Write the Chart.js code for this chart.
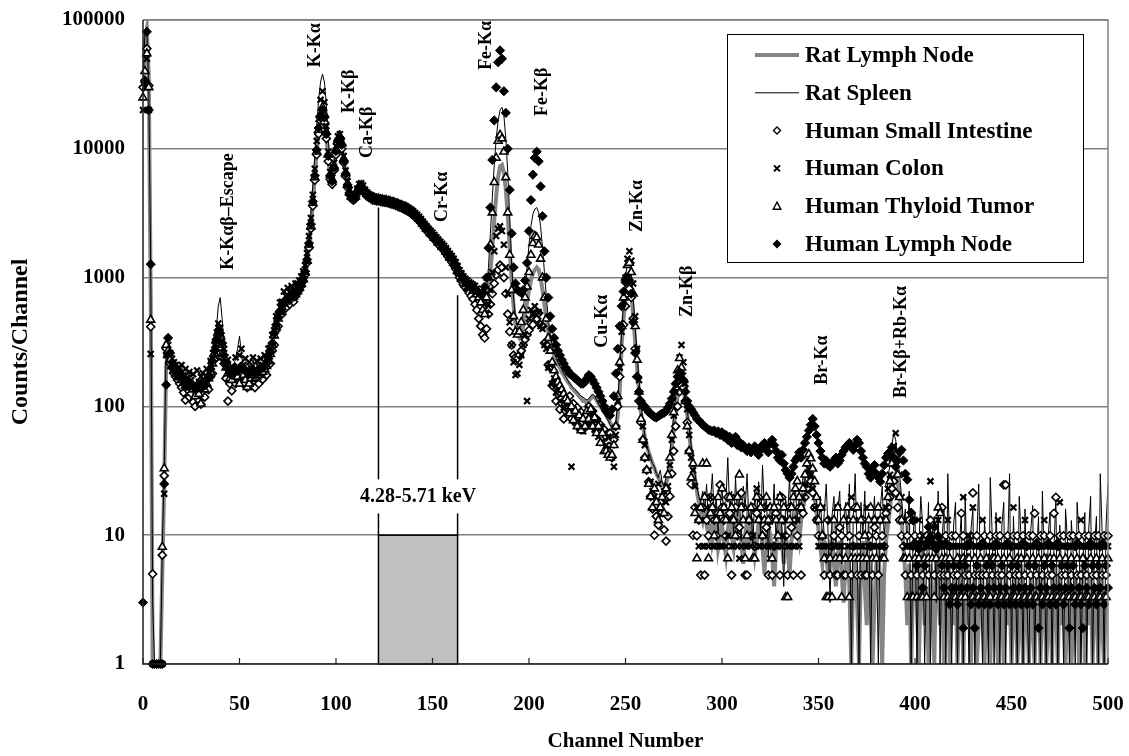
<!DOCTYPE html>
<html>
<head>
<meta charset="utf-8">
<script src="https://cdn.jsdelivr.net/npm/chart.js@4/dist/chart.umd.min.js"></script>
<style>
  body { margin: 0; background: #fff; }
</style>
</head>
<body>
<canvas id="myChart" width="1129" height="756"></canvas>
<script>
// counts per channel, channel = array index (0..500)
const ratLymphNode = [
  28000, 70000, 85000, 35000, 700, 1, 1, 1, 1, 1, 5, 26, 210, 250, 230, 205, 195, 185, 172, 178,
  165, 158, 150, 152, 145, 148, 140, 135, 142, 138, 135, 146, 142, 155, 168, 188, 215, 255, 310, 345,
  335, 295, 248, 212, 190, 176, 170, 178, 188, 184, 194, 198, 190, 184, 180, 175, 180, 184, 176, 180,
  185, 190, 195, 200, 210, 230, 260, 300, 360, 420, 480, 540, 600, 640, 660, 680, 700, 700, 720, 750,
  790, 840, 900, 980, 1100, 1350, 1800, 2500, 3800, 6000, 9500, 14000, 17500, 19000, 17000, 12500, 8500, 6000, 5500, 7000,
  9500, 11500, 12000, 10500, 8000, 6300, 5200, 4500, 4200, 4100, 4200, 4600, 5000, 5100, 4900, 4600, 4400, 4300, 4200, 4100,
  4100, 4080, 4050, 4020, 4000, 3980, 3950, 3920, 3880, 3840, 3800, 3750, 3700, 3650, 3600, 3550, 3500, 3420, 3340, 3260,
  3180, 3080, 2980, 2880, 2760, 2640, 2520, 2420, 2320, 2230, 2150, 2060, 1980, 1900, 1830, 1760, 1700, 1620, 1540, 1460,
  1400, 1330, 1250, 1160, 1080, 1020, 960, 920, 890, 860, 840, 820, 800, 770, 720, 680, 640, 620, 680, 850,
  1100, 1700, 2800, 4300, 6000, 7300, 7500, 6500, 4800, 3000, 1700, 950, 600, 430, 360, 340, 360, 420, 520, 650,
  800, 950, 1080, 1150, 1200, 1150, 1000, 800, 620, 480, 380, 320, 280, 250, 230, 210, 200, 185, 175, 165,
  155, 150, 140, 135, 130, 125, 120, 115, 110, 110, 105, 110, 115, 120, 118, 112, 105, 100, 95, 90,
  85, 80, 75, 70, 66, 68, 85, 130, 300, 480, 700, 950, 1050, 800, 500, 320, 200, 130, 90, 70,
  58, 50, 44, 40, 36, 33, 30, 28, 26, 25, 24, 25, 28, 35, 48, 68, 95, 120, 140, 145,
  135, 110, 85, 62, 45, 35, 28, 22, 18, 15, 13, 16, 12, 10, 14, 9, 11, 15, 8, 10,
  12, 9, 7, 11, 14, 10, 8, 12, 15, 11, 9, 6, 10, 13, 8, 12, 10, 7, 9, 13,
  11, 8, 5, 9, 12, 10, 7, 4, 8, 11, 13, 9, 6, 10, 8, 5, 9, 12, 14, 11,
  9, 13, 16, 20, 24, 27, 28, 25, 20, 15, 11, 8, 6, 9, 7, 5, 8, 10, 6, 4,
  7, 9, 5, 3, 6, 8, 4, 1, 5, 7, 3, 1, 6, 9, 4, 2, 7, 5, 1, 3,
  6, 8, 4, 1, 5, 9, 12, 16, 22, 28, 30, 26, 20, 14, 8, 5, 2, 6, 1, 4,
  7, 3, 1, 5, 8, 2, 4, 1, 6, 3, 1, 7, 4, 2, 5, 1, 3, 6, 1, 4,
  2, 5, 1, 3, 7, 1, 4, 2, 6, 1, 3, 5, 1, 2, 6, 4, 1, 3, 5, 1,
  4, 7, 2, 1, 5, 3, 1, 6, 2, 4, 1, 3, 5, 1, 2, 6, 1, 4, 3, 1,
  5, 2, 1, 4, 6, 1, 3, 5, 1, 2, 4, 1, 6, 3, 1, 5, 2, 4, 1, 3,
  6, 1, 2, 5, 3, 1, 4, 6, 1, 3, 2, 5, 1, 4, 3, 1, 6, 2, 1, 4,
  3
];

const ratSpleen = [
  32000, 80000, 84000, 28000, 1200, 3, 1, 1, 1, 1, 8, 32, 330, 290, 240, 215, 200, 190, 182, 175,
  170, 165, 160, 158, 150, 155, 148, 142, 150, 145, 140, 155, 150, 165, 180, 200, 240, 300, 400, 600,
  700, 480, 300, 220, 195, 180, 175, 200, 240, 280, 350, 260, 200, 190, 185, 180, 200, 230, 195, 185,
  190, 200, 205, 215, 225, 245, 280, 330, 400, 470, 530, 590, 650, 690, 700, 720, 740, 750, 770, 800,
  840, 900, 960, 1050, 1200, 1500, 2100, 3200, 5200, 9000, 15000, 24000, 33000, 38000, 33000, 22000, 12000, 7500, 6200, 8000,
  11000, 13500, 14000, 12000, 9000, 6800, 5500, 4700, 4300, 4200, 4300, 4800, 5200, 5300, 5000, 4700, 4500, 4350, 4250, 4200,
  4150, 4120, 4090, 4060, 4040, 4010, 3980, 3950, 3910, 3870, 3830, 3780, 3730, 3680, 3630, 3580, 3530, 3450, 3370, 3290,
  3210, 3110, 3010, 2910, 2790, 2670, 2550, 2450, 2350, 2260, 2180, 2090, 2010, 1930, 1860, 1790, 1730, 1650, 1570, 1490,
  1430, 1360, 1280, 1190, 1110, 1050, 990, 950, 920, 890, 870, 850, 830, 800, 760, 720, 690, 700, 850, 1200,
  2200, 4200, 7500, 12000, 16500, 20000, 21000, 18000, 12000, 6500, 3000, 1300, 700, 480, 420, 400, 430, 550, 800, 1200,
  1800, 2500, 3100, 3400, 3500, 3200, 2500, 1700, 1100, 700, 480, 360, 300, 260, 240, 220, 205, 195, 180, 170,
  160, 150, 145, 140, 135, 130, 125, 120, 118, 115, 112, 115, 120, 125, 120, 112, 105, 98, 92, 88,
  82, 78, 72, 68, 66, 75, 110, 200, 380, 650, 1000, 1300, 1400, 1100, 700, 420, 250, 160, 105, 78,
  60, 50, 44, 40, 36, 34, 30, 28, 32, 26, 24, 28, 34, 45, 60, 85, 120, 160, 190, 200,
  175, 130, 95, 68, 50, 38, 30, 24, 20, 18, 22, 15, 25, 12, 18, 30, 14, 20, 10, 16,
  25, 12, 18, 40, 15, 22, 10, 28, 14, 20, 9, 24, 16, 30, 12, 18, 8, 22, 14, 26,
  10, 35, 15, 20, 7, 18, 12, 25, 9, 16, 22, 11, 4, 19, 14, 28, 10, 17, 24, 13,
  20, 15, 30, 25, 38, 42, 35, 30, 22, 18, 12, 20, 9, 15, 25, 10, 3, 14, 20, 8,
  16, 22, 6, 12, 18, 9, 25, 1, 14, 30, 8, 1, 18, 10, 22, 5, 15, 1, 12, 20,
  8, 1, 16, 24, 10, 14, 28, 35, 50, 62, 55, 40, 30, 20, 12, 16, 8, 22, 1, 10,
  15, 1, 8, 20, 12, 1, 6, 18, 1, 10, 14, 3, 22, 1, 9, 16, 1, 30, 7, 1,
  12, 18, 1, 8, 15, 1, 20, 5, 1, 11, 16, 1, 9, 25, 4, 1, 13, 7, 1, 28,
  10, 1, 15, 6, 1, 12, 18, 1, 8, 30, 1, 14, 5, 1, 20, 9, 1, 16, 3, 1,
  11, 17, 1, 7, 14, 1, 22, 6, 1, 10, 15, 1, 8, 19, 1, 12, 5, 1, 16, 9,
  1, 13, 7, 1, 18, 10, 1, 6, 15, 1, 11, 20, 1, 8, 14, 1, 30, 10, 1, 12,
  25
];

const humanSmallIntestine = [
  30000, 33000, 60000, 31000, 415, 5, null, null, null, null, 7, 29, 280, 250, 215, 200, 180, 170, 160, 150,
  140, 128, 112, 135, 118, 126, 108, 100, 125, 112, 104, 130, 118, 140, 135, 170, 180, 230, 260, 310,
  290, 240, 215, 165, 110, 150, 132, 160, 150, 168, 155, 180, 150, 165, 140, 158, 145, 170, 140, 162,
  150, 175, 162, 185, 175, 210, 215, 270, 300, 390, 420, 520, 520, 610, 580, 650, 620, 690, 650, 720,
  760, 800, 860, 940, 1050, 1300, 1700, 2400, 3600, 5700, 9000, 13000, 16500, 18000, 16000, 12000, 8000, 5800, 5300, 6800,
  9000, 11000, 11500, 10000, 7800, 6100, 5000, 4400, 4100, 4000, 4100, 4500, 4900, 5000, 4800, 4500, 4300, 4200, 4100, 4000,
  4000, 3950, 3950, 3900, 3880, 3850, 3830, 3800, 3760, 3720, 3680, 3630, 3580, 3530, 3480, 3420, 3360, 3290, 3220, 3140,
  3060, 2960, 2860, 2760, 2650, 2540, 2420, 2320, 2220, 2140, 2060, 1980, 1900, 1820, 1750, 1680, 1620, 1540, 1460, 1390,
  1320, 1250, 1170, 1080, 1000, 940, 880, 840, 800, 760, 720, 680, 620, 560, 480, 420, 360, 340, 400, 520,
  620, 750, 900, 1050, 1150, 1250, 1200, 1000, 750, 520, 380, 300, 250, 240, 235, 250, 270, 300, 330, 360,
  390, 440, 430, 520, 480, 530, 430, 420, 310, 300, 210, 200, 145, 150, 110, 125, 95, 105, 80, 92,
  95, 120, 80, 105, 75, 98, 70, 90, 66, 85, 75, 100, 80, 92, 68, 80, 62, 72, 58, 66,
  58, 45, 62, 40, 55, 70, 100, 170, 280, 430, 600, 750, 820, 700, 480, 280, 170, 110, 75, 55,
  40, 32, 26, 20, 16, 10, 14, 12, 18, 15, 11, 9, 14, 20, 30, 45, 70, 100, 130, 145,
  140, 110, 75, 45, 25, 10, 16.4, 9.9, 13.1, 4.9, 16.4, 4.9, 13.1, 9.9, 19.7, 16.4, 13.1, 9.9, 14.8, 24.6,
  16.4, 13.1, 9.9, 19.7, 14.8, 4.9, 13.1, 16.4, 9.9, 11.5, 21.3, 16.4, 4.9, 4.9, 13.1, 9.9, 16.4, 8.2, 14.8, 19.7,
  13.1, 9.9, 16.4, 11.5, 4.9, 13.1, 4.9, 8.2, 14.8, 16.4, 4.9, 19.7, 13.1, 9.9, 4.9, 16.4, 11.5, 4.9, 13.1, 9.9,
  16.4, 4.9, 14.8, 19.7, 23, 29.5, 26.2, 21.3, 16.4, 13.1, 9.9, 16.4, 9.9, 4.9, 6.6, 13.1, 4.9, 8.2, 9.9, 4.9,
  4.9, 11.5, 9.9, 4.9, 4.9, 13.1, 9.9, 4.9, 8.2, 16.4, 4.9, 9.9, 4.9, 13.1, 4.9, 4.9, 9.9, 8.2, 4.9, 11.5,
  9.9, 4.9, 13.1, 9.9, 8.2, 14.8, 16.4, 19.7, 23, 26.2, 21.3, 16.4, 13.1, 9.9, 8.2, 4.9, 9.9, 13.1, 4.9, 8.2,
  9.9, 4.9, 6.6, 9.9, 4.9, 8.2, 9.9, 4.9, 13.1, 9.9, 4.9, 8.2, 9.9, 4.9, 16.4, 4.9, 9.9, 4.9, 8.2, 9.9,
  4.9, 9.9, 4.9, 6.6, 14.8, 9.9, 4.9, 8.2, 4.9, 9.9, 21.3, 4.9, 9.9, 4.9, 8.2, 4.9, 9.9, 4.9, 6.6, 9.9,
  4.9, 8.2, 9.9, 4.9, 9.9, 4.9, 24.6, 24.6, 9.9, 4.9, 8.2, 9.9, 4.9, 9.9, 4.9, 6.6, 9.9, 4.9, 8.2, 9.9,
  4.9, 9.9, 14.8, 4.9, 8.2, 9.9, 4.9, 9.9, 6.6, 4.9, 9.9, 4.9, 14.8, 19.7, 8.2, 9.9, 4.9, 9.9, 4.9, 8.2,
  9.9, 4.9, 9.9, 8.2, 4.9, 9.9, 4.9, 6.6, 9.9, 4.9, 9.9, 8.2, 4.9, 9.9, 4.9, 9.9, 8.2, 4.9, 9.9, 4.9,
  9.9
];

const humanColon = [
  20000, 30000, 50000, 20000, 255, 1, 1, 1, 1, 1, 1, 21, 250, 300, 260, 235, 220, 210, 195, 200,
  210, 175, 195, 168, 185, 160, 178, 150, 190, 155, 170, 182, 160, 195, 185, 225, 235, 300, 340, 440,
  410, 320, 280, 220, 230, 190, 205, 195, 240, 205, 250, 280, 210, 235, 195, 220, 200, 240, 195, 225,
  205, 235, 210, 250, 235, 280, 285, 360, 390, 500, 520, 640, 650, 780, 720, 830, 770, 860, 800, 900,
  900, 950, 1020, 1120, 1250, 1550, 2100, 2900, 4400, 7000, 11500, 17000, 24000, 28000, 23000, 15000, 9500, 6600, 6000, 7800,
  10500, 12500, 13000, 11500, 8800, 6800, 5600, 4800, 4400, 4300, 4400, 4900, 5300, 5400, 5200, 4800, 4600, 4450, 4350, 4250,
  4250, 4200, 4180, 4150, 4120, 4100, 4060, 4030, 3990, 3950, 3900, 3860, 3800, 3750, 3700, 3650, 3600, 3520, 3440, 3360,
  3280, 3180, 3080, 2970, 2850, 2730, 2610, 2500, 2400, 2310, 2230, 2140, 2060, 1980, 1900, 1830, 1770, 1690, 1610, 1530,
  1470, 1400, 1320, 1230, 1140, 1080, 1020, 980, 950, 920, 900, 880, 860, 820, 770, 720, 650, 560, 520, 620,
  800, 1100, 1600, 2100, 2400, 2500, 2300, 1800, 1200, 750, 450, 300, 220, 175, 180, 210, 250, 300, 360, 110,
  480, 560, 520, 600, 510, 540, 420, 400, 300, 280, 200, 210, 150, 165, 128, 140, 110, 125, 98, 112,
  90, 100, 34, 95, 75, 88, 68, 82, 64, 80, 74, 95, 72, 88, 66, 78, 58, 70, 52, 62,
  50, 58, 42, 50, 34, 60, 110, 200, 380, 650, 1000, 1400, 1600, 1350, 900, 500, 280, 160, 100, 70,
  50, 40, 32, 26, 22, 20, 18, 25, 16, 20, 22, 18, 24, 35, 55, 85, 130, 180, 240, 300,
  220, 150, 95, 60, 40, 32, 24, 16.4, 8.2, 13.1, 8.2, 8.2, 16.4, 8.2, 19.7, 8.2, 8.2, 13.1, 8.2, 8.2,
  8.2, 16.4, 8.2, 9.9, 13.1, 8.2, 8.2, 19.7, 8.2, 6.6, 8.2, 16.4, 8.2, 8.2, 13.1, 8.2, 9.9, 8.2, 23, 8.2,
  8.2, 13.1, 8.2, 16.4, 8.2, 6.6, 8.2, 13.1, 8.2, 8.2, 19.7, 8.2, 9.9, 13.1, 8.2, 8.2, 16.4, 8.2, 8.2, 13.1,
  8.2, 16.4, 19.7, 24.6, 29.5, 32.8, 29.5, 23, 16.4, 13.1, 8.2, 8.2, 16.4, 8.2, 8.2, 8.2, 13.1, 8.2, 8.2, 8.2,
  16.4, 8.2, 8.2, 6.6, 13.1, 8.2, 8.2, 19.7, 8.2, 8.2, 8.2, 13.1, 8.2, 8.2, 9.9, 16.4, 8.2, 8.2, 8.2, 13.1,
  8.2, 8.2, 13.1, 8.2, 8.2, 16.4, 23, 29.5, 39.4, 49.2, 62, 44.3, 29.5, 19.7, 13.1, 8.2, 8.2, 8.2, 8.2, 8.2,
  8.2, 8.2, 13.1, 6.6, 9.9, 8.2, 8.2, 8.2, 26.2, 8.2, 8.2, 8.2, 13.1, 8.2, 8.2, 8.2, 8.2, 13.1, 8.2, 8.2,
  8.2, 8.2, 8.2, 8.2, 8.2, 19.7, 8.2, 8.2, 9.9, 8.2, 16.4, 8.2, 8.2, 8.2, 8.2, 13.1, 8.2, 8.2, 8.2, 8.2,
  8.2, 8.2, 8.2, 13.1, 8.2, 8.2, 8.2, 8.2, 8.2, 8.2, 8.2, 16.4, 8.2, 8.2, 8.2, 8.2, 8.2, 13.1, 8.2, 8.2,
  8.2, 8.2, 8.2, 8.2, 8.2, 8.2, 8.2, 13.1, 8.2, 8.2, 8.2, 8.2, 8.2, 8.2, 8.2, 18, 8.2, 8.2, 8.2, 8.2,
  8.2, 8.2, 8.2, 8.2, 8.2, 8.2, 13.1, 8.2, 8.2, 8.2, 8.2, 8.2, 8.2, 8.2, 8.2, 8.2, 8.2, 8.2, 8.2, 8.2,
  8.2
];

const humanThyloidTumor = [
  25000, 40000, 55000, 30000, 470, null, null, null, null, null, 8.1, 33, 300, 270, 230, 205, 190, 178, 168, 172,
  160, 152, 145, 148, 140, 142, 135, 120, 138, 125, 105, 140, 135, 150, 165, 185, 215, 260, 330, 380,
  360, 300, 240, 200, 180, 165, 160, 175, 185, 170, 150, 185, 175, 160, 141, 150, 165, 175, 165, 170,
  175, 180, 185, 195, 205, 225, 255, 300, 355, 420, 480, 540, 590, 630, 650, 670, 690, 700, 710, 740,
  780, 830, 890, 970, 1100, 1350, 1800, 2500, 3800, 6000, 9500, 14000, 18500, 21000, 18500, 13500, 9000, 6300, 5700, 7300,
  9800, 11800, 12500, 11000, 8300, 6500, 5300, 4600, 4250, 4150, 4250, 4700, 5100, 5200, 5000, 4700, 4450, 4350, 4250, 4150,
  4150, 4050, 4100, 3980, 4020, 3950, 3990, 3900, 3910, 3820, 3830, 3720, 3730, 3620, 3630, 3520, 3530, 3400, 3370, 3230,
  3210, 3050, 3010, 2850, 2790, 2610, 2550, 2390, 2350, 2200, 2180, 2030, 2010, 1870, 1860, 1730, 1720, 1590, 1560, 1430,
  1420, 1300, 1270, 1130, 1100, 990, 980, 890, 900, 830, 850, 790, 810, 740, 700, 640, 560, 520, 700, 1000,
  1800, 3200, 5500, 8500, 11500, 12800, 12000, 9500, 6000, 3200, 1500, 800, 500, 380, 360, 380, 450, 560, 700, 850,
  1100, 1500, 1850, 2100, 2050, 1800, 1400, 1000, 700, 480, 340, 270, 220, 190, 170, 155, 145, 135, 125, 115,
  110, 88, 100, 78, 92, 70, 85, 65, 80, 70, 92, 80, 95, 70, 82, 62, 70, 52, 62, 45,
  45, 42, 40, 42, 50, 70, 120, 220, 420, 700, 1000, 1250, 1300, 1100, 750, 420, 230, 130, 80, 55,
  40, 32, 25, 20, 16.4, 23, 18, 13.1, 16.4, 19.7, 14.8, 23, 29.5, 40, 60, 90, 140, 190, 237, 200,
  160, 110, 70, 45, 28, 36, 14.8, 6.6, 13.1, 16.4, 36, 19.7, 36, 6.6, 14.8, 16.4, 9.9, 13.1, 19.7, 14.8,
  23, 16.4, 13.1, 6.6, 19.7, 16.4, 13.1, 9.9, 19.7, 29.5, 16.4, 13.1, 6.6, 9.9, 13.1, 16.4, 6.6, 6.6, 19.7, 13.1,
  16.4, 9.9, 13.1, 19.7, 13.1, 16.4, 6.6, 16.4, 13.1, 9.9, 19.7, 13.1, 16.4, 3.3, 3.3, 13.1, 16.4, 19.7, 23, 26.2,
  19.7, 16.4, 23, 29.5, 36, 42.6, 39.4, 32.8, 26.2, 19.7, 13.1, 16.4, 9.9, 6.6, 3.3, 3.3, 6.6, 3.3, 13.1, 6.6,
  16.4, 6.6, 3.3, 13.1, 6.6, 16.4, 3.3, 6.6, 13.1, 6.6, 16.4, 6.6, 13.1, 6.6, 9.9, 6.6, 13.1, 16.4, 6.6, 13.1,
  6.6, 16.4, 13.1, 6.6, 6.6, 13.1, 19.7, 26.2, 36, 45.9, 42.6, 29.5, 19.7, 13.1, 6.6, 6.6, 3.3, 6.6, 3.3, 3.3,
  6.6, 3.3, 6.6, 3.3, 3.3, 6.6, 3.3, 6.6, 9.9, 6.6, 3.3, 6.6, 16.4, 14.8, 6.6, 3.3, 6.6, 3.3, 6.6, 3.3,
  3.3, 3.3, 6.6, 3.3, 3.3, 6.6, 3.3, 6.6, 6.6, 3.3, 3.3, 6.6, 3.3, 3.3, 6.6, 3.3, 3.3, 6.6, 3.3, 3.3,
  6.6, 6.6, 3.3, 6.6, 3.3, 3.3, 6.6, 3.3, 3.3, 6.6, 3.3, 3.3, 3.3, 6.6, 3.3, 6.6, 3.3, 3.3, 6.6, 3.3,
  3.3, 6.6, 3.3, 3.3, 6.6, 3.3, 3.3, 6.6, 3.3, 3.3, 6.6, 3.3, 6.6, 3.3, 3.3, 6.6, 3.3, 3.3, 6.6, 3.3,
  3.3, 6.6, 3.3, 3.3, 6.6, 3.3, 3.3, 6.6, 3.3, 3.3, 3.3, 6.6, 3.3, 3.3, 6.6, 3.3, 3.3, 6.6, 3.3, 3.3,
  6.6
];

const humanLymphNode = [
  3, 34000, 81000, 20000, 1270, 1, 1, 1, 1, 1, 1, 25, 147, 340, 260, 220, 200, 185, 175, 180,
  170, 160, 150, 155, 148, 150, 142, 138, 145, 140, 138, 150, 145, 160, 172, 195, 225, 270, 330, 390,
  370, 310, 250, 215, 195, 180, 175, 185, 195, 188, 198, 205, 195, 188, 185, 180, 185, 190, 180, 185,
  190, 195, 200, 205, 215, 235, 265, 310, 370, 430, 490, 550, 610, 650, 670, 690, 710, 710, 730, 760,
  800, 850, 910, 990, 1120, 1380, 1850, 2600, 3900, 6200, 9800, 14500, 18000, 20000, 17500, 13000, 8800, 6200, 5600, 7100,
  9600, 11600, 12200, 10700, 8100, 6400, 5250, 4550, 4250, 4150, 4250, 4650, 5050, 5150, 4950, 4650, 4420, 4320, 4220, 4120,
  4120, 4100, 4070, 4040, 4020, 4000, 3970, 3940, 3900, 3860, 3820, 3770, 3720, 3670, 3620, 3570, 3520, 3440, 3360, 3280,
  3200, 3100, 3000, 2900, 2780, 2660, 2540, 2440, 2340, 2250, 2170, 2080, 2000, 1920, 1850, 1780, 1720, 1640, 1560, 1480,
  1420, 1350, 1270, 1180, 1100, 1040, 980, 940, 910, 880, 860, 840, 820, 790, 760, 740, 760, 850, 1000, 1700,
  3500, 8200, 16600, 30000, 47000, 58000, 50000, 28000, 19000, 10000, 4800, 2200, 1200, 900, 800, 780, 760, 800, 950, 1300,
  2300, 4000, 6300, 8500, 9500, 8000, 5100, 3000, 1600, 1000, 700, 500, 400, 340, 300, 270, 250, 230, 215, 200,
  190, 180, 175, 170, 165, 160, 155, 150, 150, 155, 165, 175, 170, 160, 150, 140, 130, 120, 110, 100,
  92, 88, 85, 95, 120, 180, 280, 420, 600, 780, 920, 1000, 950, 750, 450, 260, 170, 130, 110, 100,
  100, 95, 90, 88, 85, 83, 82, 84, 86, 88, 89, 92, 98, 105, 115, 130, 150, 170, 185, 180,
  160, 130, 110, 100, 95, 90, 85, 80, 78, 75, 72, 70, 68, 66, 65, 64, 65, 62, 64, 60,
  63, 58, 60, 55, 58, 52, 56, 58, 50, 53, 48, 50, 47, 45, 48, 44, 46, 49, 45, 42,
  46, 50, 52, 48, 44, 52, 55, 50, 45, 40, 38, 42, 36, 32, 30, 28, 30, 34, 38, 40,
  44, 40, 46, 52, 58, 65, 72, 80, 70, 60, 52, 45, 40, 36, 38, 35, 34, 36, 38, 40,
  36, 38, 42, 45, 48, 50, 52, 48, 46, 50, 55, 52, 45, 40, 36, 34, 30, 28, 32, 35,
  30, 28, 26, 30, 35, 40, 43, 43, 48, 40, 34, 38, 44, 46, 38, 30, 27, 18.8, 15, 13,
  8.7, 5.8, 7.8, 8.7, 3.9, 5.8, 8.7, 11.6, 9.7, 8.7, 11.6, 7.8, 9.7, 8.7, 5.8, 3.9, 8.7, 5.8, 2.9, 3.9,
  5.8, 3.9, 2.9, 5.8, 3.9, 1.9, 5.8, 3.9, 8.7, 2.9, 3.9, 1.9, 5.8, 2.9, 3.9, 8.7, 2.9, 5.8, 3.9, 2.9,
  5.8, 3.9, 8.7, 2.9, 3.9, 5.8, 2.9, 3.9, 8.7, 2.9, 5.8, 3.9, 2.9, 5.8, 3.9, 2.9, 8.7, 3.9, 2.9, 5.8,
  3.9, 2.9, 5.8, 8.7, 1.9, 3.9, 2.9, 5.8, 3.9, 8.7, 2.9, 5.8, 3.9, 2.9, 8.7, 3.9, 5.8, 2.9, 3.9, 5.8,
  1.9, 3.9, 5.8, 2.9, 8.7, 3.9, 2.9, 1.9, 5.8, 3.9, 2.9, 8.7, 5.8, 3.9, 2.9, 5.8, 3.9, 8.7, 2.9, 5.8,
  3.9
];

const yTicks = [1, 10, 100, 1000, 10000, 100000];

// element lines: [text, channel, counts at the foot of the label]
const peakLabels = [
  ['K-K\u03b1\u03b2\u2013Escape', 44, 1150],
  ['K-K\u03b1', 89.5, 43000],
  ['K-K\u03b2', 107, 19000],
  ['Ca-K\u03b2', 116, 8500],
  ['Cr-K\u03b1', 155, 2700],
  ['Fe-K\u03b1', 178, 41000],
  ['Fe-K\u03b2', 207, 18000],
  ['Cu-K\u03b1', 238, 285],
  ['Zn-K\u03b1', 256, 2260],
  ['Zn-K\u03b2', 282, 495],
  ['Br-K\u03b1', 352, 147],
  ['Br-K\u03b2+Rb-K\u03b1', 393, 116]
];

// integration window
const windowChannels = [122, 163];
const windowCounts = [1, 10];
const windowLineTops = [3500, 730];
const windowLabel = '4.28-5.71 keV';
const windowLabelCounts = 20;

const serif = "'Liberation Serif', 'Times New Roman', serif";

const toPoints = (values) => values.map((v, i) => ({ x: i, y: v }));

const markerStyle = (style, radius, fill, width) => ({
  type: 'line',
  showLine: false,
  pointStyle: style,
  pointRadius: radius,
  pointHoverRadius: radius,
  pointBackgroundColor: fill,
  pointBorderColor: '#000',
  pointBorderWidth: width,
  clip: false
});

const legendItems = [
  { text: 'Rat Lymph Node', kind: 'thick' },
  { text: 'Rat Spleen', kind: 'thin' },
  { text: 'Human Small Intestine', kind: 'diamond' },
  { text: 'Human Colon', kind: 'cross' },
  { text: 'Human Thyloid Tumor', kind: 'triangle' },
  { text: 'Human Lymph Node', kind: 'filled' }
];

function drawMarker(ctx, kind, cx, cy) {
  ctx.save();
  ctx.strokeStyle = '#000';
  ctx.fillStyle = '#fff';
  ctx.lineWidth = 1.4;
  ctx.beginPath();
  if (kind === 'diamond' || kind === 'filled') {
    const r = 3.5;
    ctx.moveTo(cx, cy - r); ctx.lineTo(cx + r, cy); ctx.lineTo(cx, cy + r); ctx.lineTo(cx - r, cy); ctx.closePath();
    if (kind === 'filled') ctx.fillStyle = '#000';
    ctx.fill(); ctx.stroke();
  } else if (kind === 'cross') {
    ctx.lineWidth = 2;
    ctx.moveTo(cx - 3, cy - 3); ctx.lineTo(cx + 3, cy + 3);
    ctx.moveTo(cx + 3, cy - 3); ctx.lineTo(cx - 3, cy + 3);
    ctx.stroke();
  } else if (kind === 'triangle') {
    ctx.moveTo(cx, cy - 4); ctx.lineTo(cx + 3.8, cy + 3); ctx.lineTo(cx - 3.8, cy + 3); ctx.closePath();
    ctx.fill(); ctx.stroke();
  }
  ctx.restore();
}

const decorations = {
  id: 'decorations',
  beforeDatasetsDraw(chart) {
    const { ctx, scales: { x, y } } = chart;
    const x0 = x.getPixelForValue(windowChannels[0]);
    const x1 = x.getPixelForValue(windowChannels[1]);
    const yTop = y.getPixelForValue(windowCounts[1]);
    const yBot = y.getPixelForValue(windowCounts[0]);
    ctx.save();
    ctx.fillStyle = '#c0c0c0';
    ctx.fillRect(x0, yTop, x1 - x0, yBot - yTop);
    ctx.strokeStyle = '#000';
    ctx.lineWidth = 1.5;
    ctx.strokeRect(x0, yTop, x1 - x0, yBot - yTop);
    // window edges up to the spectrum
    ctx.beginPath();
    ctx.moveTo(x0, y.getPixelForValue(windowLineTops[0])); ctx.lineTo(x0, yTop);
    ctx.moveTo(x1, y.getPixelForValue(windowLineTops[1])); ctx.lineTo(x1, yTop);
    ctx.stroke();
    ctx.font = 'bold 20px ' + serif;
    ctx.textAlign = 'center';
    ctx.textBaseline = 'middle';
    const ly = y.getPixelForValue(windowLabelCounts);
    const lx = (x0 + x1) / 2;
    const w = ctx.measureText(windowLabel).width;
    ctx.fillStyle = '#fff';
    ctx.fillRect(lx - w / 2 - 3, ly - 17, w + 6, 34);
    ctx.fillStyle = '#000';
    ctx.fillText(windowLabel, lx, ly);
    ctx.restore();
  },
  afterDatasetsDraw(chart) {
    const { ctx, chartArea: a, scales: { x, y } } = chart;
    ctx.save();
    // plot frame
    ctx.strokeStyle = '#808080';
    ctx.lineWidth = 1.5;
    ctx.beginPath();
    ctx.moveTo(a.left, a.top); ctx.lineTo(a.right, a.top); ctx.lineTo(a.right, a.bottom);
    ctx.stroke();
    ctx.strokeStyle = '#222';
    ctx.beginPath();
    ctx.moveTo(a.left, a.top); ctx.lineTo(a.left, a.bottom); ctx.lineTo(a.right, a.bottom);
    ctx.stroke();
    // inner tick marks on the channel axis
    ctx.lineWidth = 1.2;
    x.ticks.forEach(t => {
      const px = x.getPixelForValue(t.value);
      ctx.beginPath();
      ctx.moveTo(px, a.bottom); ctx.lineTo(px, a.bottom - 6);
      ctx.stroke();
    });
    // element labels
    ctx.fillStyle = '#000';
    ctx.font = 'bold 18px ' + serif;
    ctx.textAlign = 'left';
    ctx.textBaseline = 'middle';
    peakLabels.forEach(([text, ch, counts]) => {
      ctx.save();
      ctx.translate(x.getPixelForValue(ch), y.getPixelForValue(counts));
      ctx.rotate(-Math.PI / 2);
      ctx.fillText(text, 0, 0);
      ctx.restore();
    });
    ctx.restore();
  },
  afterDraw(chart) {
    const { ctx, chartArea: a } = chart;
    const box = { left: a.right - 381, top: a.top + 14, width: 356, height: 228 };
    ctx.save();
    ctx.fillStyle = '#fff';
    ctx.fillRect(box.left, box.top, box.width, box.height);
    ctx.strokeStyle = '#000';
    ctx.lineWidth = 1;
    ctx.strokeRect(box.left + 0.5, box.top + 0.5, box.width, box.height);
    ctx.font = 'bold 23px ' + serif;
    ctx.textBaseline = 'middle';
    ctx.textAlign = 'left';
    legendItems.forEach((item, i) => {
      const cy = box.top + 21 + i * 37.8;
      const sx0 = box.left + 28, sx1 = box.left + 72, cx = (sx0 + sx1) / 2;
      if (item.kind === 'thick' || item.kind === 'thin') {
        ctx.save();
        ctx.strokeStyle = item.kind === 'thick' ? '#858585' : '#000';
        ctx.lineWidth = item.kind === 'thick' ? 4 : 1;
        ctx.beginPath();
        ctx.moveTo(sx0, cy); ctx.lineTo(sx1, cy);
        ctx.stroke();
        ctx.restore();
      } else {
        drawMarker(ctx, item.kind, cx, cy);
      }
      ctx.fillStyle = '#000';
      ctx.fillText(item.text, box.left + 78, cy + 1);
    });
    ctx.restore();
  }
};

const mychart = new Chart(document.getElementById('myChart'), {
  type: 'line',
  data: {
    datasets: [
      {
        label: 'Rat Lymph Node',
        data: toPoints(ratLymphNode),
        borderColor: '#858585',
        borderWidth: 4,
        pointRadius: 0,
        tension: 0,
        order: 6
      },
      {
        label: 'Rat Spleen',
        data: toPoints(ratSpleen),
        borderColor: '#000',
        borderWidth: 1,
        pointRadius: 0,
        tension: 0,
        order: 5
      },
      Object.assign({ label: 'Human Small Intestine', data: toPoints(humanSmallIntestine), order: 4 },
        markerStyle('rectRot', 4, '#fff', 1.6)),
      Object.assign({ label: 'Human Colon', data: toPoints(humanColon), order: 3 },
        markerStyle('crossRot', 4.2, '#000', 2.2)),
      Object.assign({ label: 'Human Thyloid Tumor', data: toPoints(humanThyloidTumor), order: 2 },
        markerStyle('triangle', 4.6, '#fff', 1.6)),
      Object.assign({ label: 'Human Lymph Node', data: toPoints(humanLymphNode), order: 1 },
        markerStyle('rectRot', 4.6, '#000', 1))
    ]
  },
  options: {
    responsive: false,
    animation: false,
    devicePixelRatio: 1,
    layout: { padding: 0 },
    plugins: {
      legend: { display: false },
      tooltip: { enabled: false }
    },
    scales: {
      x: {
        type: 'linear',
        min: 0,
        max: 500,
        afterFit: (s) => { s.height = 92; s.paddingLeft = 0; s.paddingRight = 21; },
        ticks: {
          stepSize: 50,
          padding: 28,
          color: '#000',
          font: { family: serif, size: 21, weight: 'bold' }
        },
        grid: { display: false, drawTicks: false },
        border: { display: false },
        title: {
          display: true,
          text: 'Channel Number',
          color: '#000',
          padding: { top: 0, bottom: 2 },
          font: { family: serif, size: 21, weight: 'bold' }
        }
      },
      y: {
        type: 'logarithmic',
        min: 1,
        max: 100000,
        afterFit: (s) => { s.width = 143; s.paddingTop = 20; s.paddingBottom = 0; },
        afterBuildTicks: (s) => { s.ticks = yTicks.map(v => ({ value: v })); },
        ticks: {
          padding: 18,
          color: '#000',
          font: { family: serif, size: 21, weight: 'bold' },
          callback: (v) => String(v)
        },
        grid: { color: '#808080', lineWidth: 1.5, drawTicks: false },
        border: { display: false },
        title: {
          display: true,
          text: 'Counts/Channel',
          color: '#000',
          padding: { top: 6, bottom: 0 },
          font: { family: serif, size: 24, weight: 'bold' }
        }
      }
    }
  },
  plugins: [decorations]
});
</script>
</body>
</html>
